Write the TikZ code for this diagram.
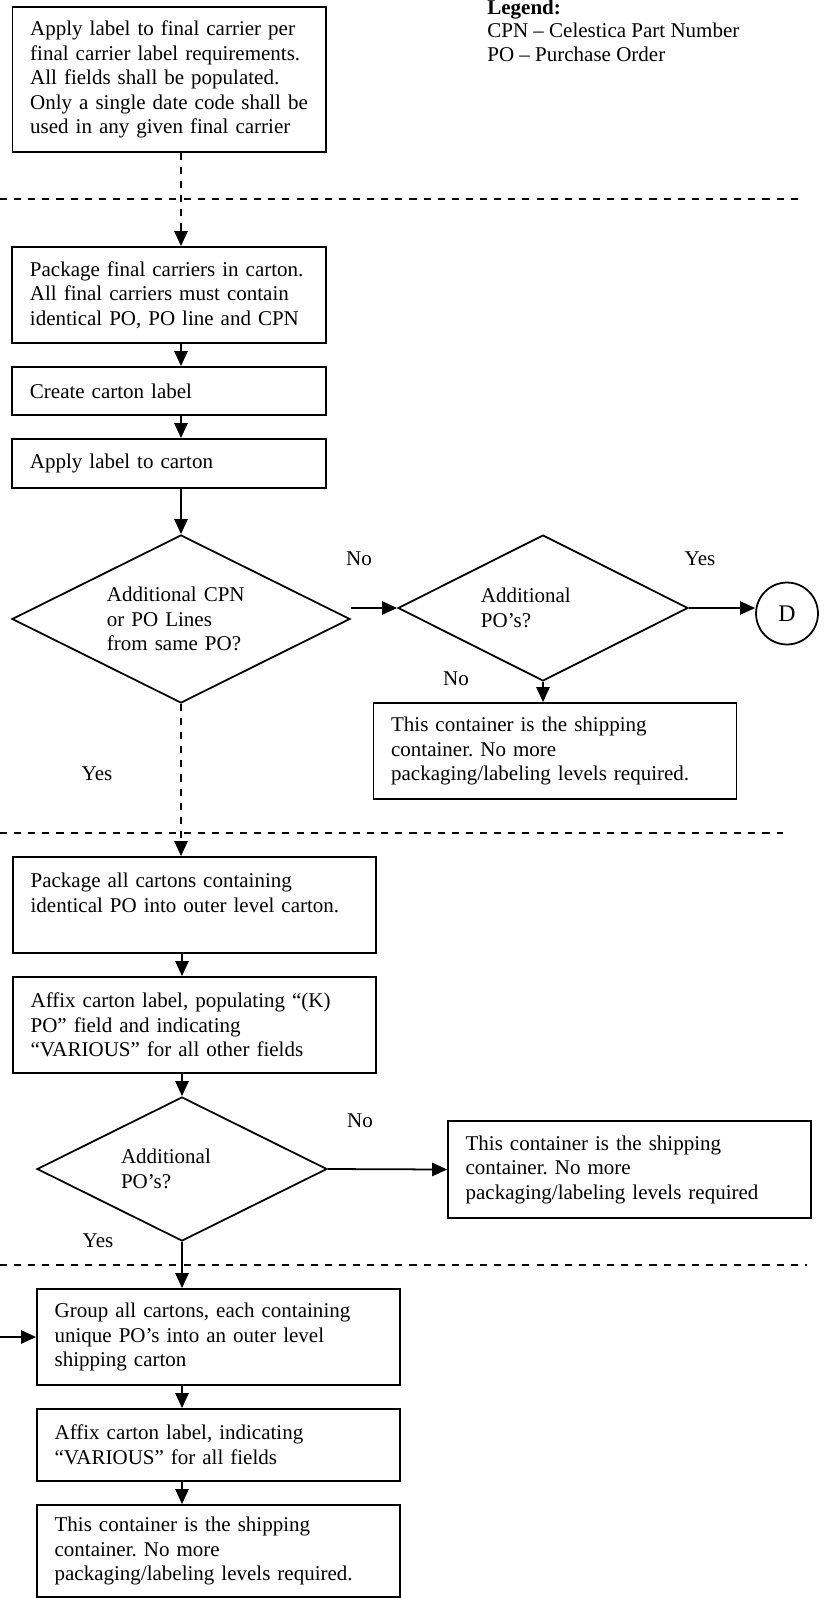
\documentclass[tikz,border=0pt]{standalone}
\usepackage{fontspec}
\setmainfont{Liberation Serif}
\usetikzlibrary{shapes.geometric,arrows.meta}

\tikzset{
  stepbox/.style={draw, line width=1pt, rectangle, align=left, inner xsep=10pt, inner ysep=0pt},
  narrowbox/.style={stepbox, text width=157.6pt},
  widebox/.style={stepbox, text width=185.7pt},
  choice/.style={draw, line width=1pt, diamond, aspect=2, align=left, inner sep=0pt},
  sep/.style={line width=1pt, dash pattern=on 4pt off 4pt}
}

\begin{document}
\frenchspacing
\fontsize{11.9}{13.9}\selectfont
\begin{tikzpicture}[x=0.5666pt, y=-0.5666pt]
  \useasboundingbox (0,0) rectangle (825,1598);
  % separators
  \draw[sep] (0,199) -- (800,199);
  \draw[sep] (0,833) -- (783,833);
  \draw[sep] (0,1265) -- (807,1265);

  \path (169.3,79.6) node[narrowbox, minimum height=82pt] (lab) {Apply label to final carrier per\\final carrier label requirements.\\All fields shall be populated.\\Only a single date code shall be\\used in any given final carrier};
  \path (169,295) node[narrowbox, minimum height=54.4pt] (pack) {Package final carriers in carton.\\All final carriers must contain\\identical PO, PO line and CPN};
  \path (169,391) node[narrowbox, minimum height=27.2pt] (mk) {Create carton label};
  \path (169,463.5) node[narrowbox, minimum height=27.8pt] (put) {Apply label to carton};
  \path (181,619) node[choice, minimum width=191.5pt, minimum height=95.2pt, text width=83.9pt] (q1) {Additional CPN\\or PO Lines\\from same PO?};
  \path (543,608) node[choice, minimum width=164.3pt, minimum height=82.7pt, text width=70.3pt] (q2) {Additional\\PO’s?};
  \path (555,751) node[widebox, minimum height=54.4pt] (ship1) {This container is the shipping\\container. No more\\packaging/labeling levels required.};
  \path (787,613.5) node[draw, line width=1pt, circle, minimum size=35.1pt, inner sep=0pt, font=\fontsize{13.5}{16}\selectfont] (dd) {D};

  \path (194.5,905) node[widebox, minimum height=54.4pt] (outer) {Package all cartons containing\\identical PO into outer level carton.\\~};
  \path (194.5,1025) node[widebox, minimum height=54.4pt] (affix1) {Affix carton label, populating “(K)\\PO” field and indicating\\“VARIOUS” for all other fields};
  \path (182,1169) node[choice, minimum width=164.3pt, minimum height=81.6pt, text width=69.1pt] (q3) {Additional\\PO’s?};
  \path (629.5,1169.5) node[widebox, minimum height=55pt] (ship2) {This container is the shipping\\container. No more\\packaging/labeling levels required};

  \path (218.5,1337) node[widebox, minimum height=54.4pt] (grp) {Group all cartons, each containing\\unique PO’s into an outer level\\shipping carton};
  \path (218.5,1445) node[widebox, minimum height=40.8pt] (affix2) {Affix carton label, indicating\\“VARIOUS” for all fields};
  \path (218.5,1551) node[widebox, minimum height=52.1pt] (ship3) {This container is the shipping\\container. No more\\packaging/labeling levels required.};

  \path (359,565) node[anchor=base] (no1) {No};
  \path (700,565) node[anchor=base] (yes1) {Yes};
  \path (456,685) node[anchor=base] (no2) {No};
  \path (97,780) node[anchor=base] (yes2) {Yes};
  \path (360,1127) node[anchor=base] (no3) {No};
  \path (98,1247) node[anchor=base] (yes3) {Yes};

  \path (487,15) node[anchor=base west, inner sep=0pt, font=\bfseries] (leg) {Legend:};
  \path (487,38) node[anchor=base west, inner sep=0pt] (cpn) {CPN – Celestica Part Number};
  \path (487,62) node[anchor=base west, inner sep=0pt] (po) {PO – Purchase Order};

  \coordinate (entry) at (0,1337);

  \begin{scope}[line width=1pt, -{Triangle[length=8.5pt,width=7.5pt]}]
    \draw[dash pattern=on 4pt off 4pt] (lab.south -| q1.north) -- (pack.north -| q1.north);
    \draw (pack.south -| q1.north) -- (mk.north -| q1.north);
    \draw (mk.south -| q1.north) -- (put.north -| q1.north);
    \draw (put.south -| q1.north) -- (q1.north);
    \draw (q1.east |- q2.west) -- (q2.west);
    \draw (q2.east) -- (q2.east -| dd.west);
    \draw (q2.south) -- (q2.south |- ship1.north);
    \draw[dash pattern=on 4pt off 4pt] (q1.south) -- (q1.south |- outer.north);
    \draw (outer.south -| q3.north) -- (affix1.north -| q3.north);
    \draw (affix1.south -| q3.north) -- (q3.north);
    \draw (q3.east) -- (ship2.west);
    \draw (q3.south) -- (q3.south |- grp.north);
    \draw (grp.south -| q3.north) -- (affix2.north -| q3.north);
    \draw (affix2.south -| q3.north) -- (ship3.north -| q3.north);
    \draw (entry) -- (grp.west);
  \end{scope}
\end{tikzpicture}
\end{document}
